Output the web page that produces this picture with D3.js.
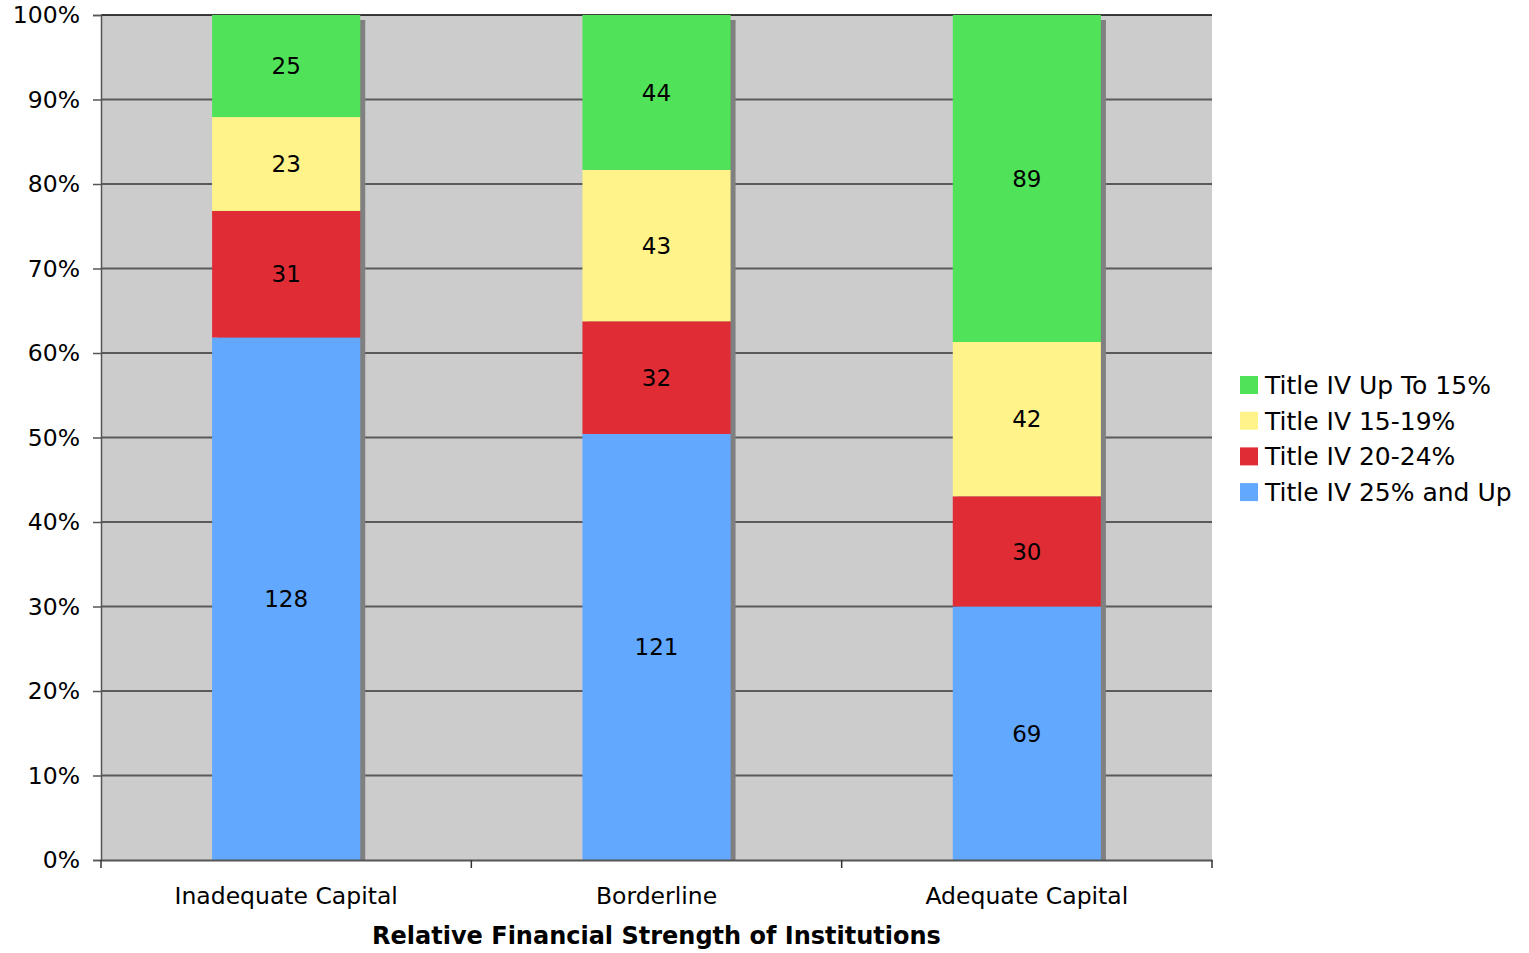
<!DOCTYPE html>
<html>
<head>
<meta charset="utf-8">
<script src="https://cdn.jsdelivr.net/npm/d3@7"></script>
<style>
  html, body { margin: 0; padding: 0; background: #fff; }
  svg { display: block; font-family: "DejaVu Sans", Verdana, sans-serif; }
</style>
</head>
<body>
<svg id="chart" width="1529" height="953"></svg>
<script>
// Institution groups and counts per Title IV band (bottom to top)
const categories = ["Inadequate Capital", "Borderline", "Adequate Capital"];
const seriesNames = ["Title IV 25% and Up", "Title IV 20-24%", "Title IV 15-19%", "Title IV Up To 15%"];
const up25 = [128, 121, 69];
const from20to24 = [31, 32, 30];
const from15to19 = [23, 43, 42];
const upTo15 = [25, 44, 89];
const seriesColors = ["#62a8ff", "#e02d35", "#fff38a", "#50e35a"];
const yTicks = [0, 0.1, 0.2, 0.3, 0.4, 0.5, 0.6, 0.7, 0.8, 0.9, 1.0];
const xTitle = "Relative Financial Strength of Institutions";

const seriesValues = [up25, from20to24, from15to19, upTo15];
const FONT = "DejaVu Sans, Verdana, sans-serif";

const svg = d3.select("#chart");
const plot = { left: 101, right: 1212, top: 15, bottom: 860 };

const x = d3.scaleBand().domain(categories).range([plot.left, plot.right]).paddingInner(0.6).paddingOuter(0.3);
const xBand = d3.scaleBand().domain(categories).range([plot.left, plot.right]);
const y = d3.scaleLinear().domain([0, 1]).range([plot.bottom, plot.top]);

// Build normalized stacks
const rows = categories.map((c, i) => {
  const r = { cat: c };
  seriesNames.forEach((s, j) => r[s] = seriesValues[j][i]);
  return r;
});
const stack = d3.stack().keys(seriesNames).offset(d3.stackOffsetExpand);
const layers = stack(rows);

// Plot background
svg.append("rect")
  .attr("x", plot.left).attr("y", plot.top)
  .attr("width", plot.right - plot.left).attr("height", plot.bottom - plot.top)
  .attr("fill", "#cccccc");

// Horizontal gridlines
svg.append("g").selectAll("line").data(yTicks.filter(t => t > 0)).join("line")
  .attr("x1", plot.left).attr("x2", plot.right)
  .attr("y1", d => y(d)).attr("y2", d => y(d))
  .attr("stroke", d => d === 1 ? "#000" : "#5a5a5a")
  .attr("stroke-width", d => d === 1 ? 1.5 : 2);

// Bar shadows
svg.append("defs").append("clipPath").attr("id", "plotClip")
  .append("rect").attr("x", plot.left).attr("y", plot.top)
  .attr("width", plot.right - plot.left).attr("height", plot.bottom - plot.top);
svg.append("g").attr("clip-path", "url(#plotClip)")
  .selectAll("rect").data(categories).join("rect")
  .attr("x", d => x(d) + 5).attr("y", y(1) + 5)
  .attr("width", x.bandwidth()).attr("height", y(0) - y(1))
  .attr("fill", "#808080");

// Stacked bars
const gLayers = svg.append("g").selectAll("g").data(layers).join("g")
  .attr("fill", (d, i) => seriesColors[i]);
gLayers.selectAll("rect").data(d => d).join("rect")
  .attr("x", d => x(d.data.cat))
  .attr("y", d => y(d[1]))
  .attr("width", x.bandwidth())
  .attr("height", d => y(d[0]) - y(d[1]));

// Value labels
const labels = svg.append("g").attr("font-size", 23).attr("fill", "#000").attr("text-anchor", "middle");
layers.forEach((layer, j) => {
  layer.forEach((d, i) => {
    labels.append("text")
      .attr("x", x(d.data.cat) + x.bandwidth() / 2)
      .attr("y", (y(d[0]) + y(d[1])) / 2)
      .attr("dy", "0.36em")
      .text(seriesValues[j][i]);
  });
});

// Y axis
const yAxis = svg.append("g").attr("transform", `translate(${plot.left},0)`)
  .call(d3.axisLeft(y).tickValues(yTicks).tickFormat(d3.format(".0%")).tickSize(8).tickPadding(13));
yAxis.select(".domain").attr("stroke", "#555").attr("stroke-width", 1.5);
yAxis.selectAll(".tick line").attr("stroke", "#555").attr("stroke-width", 1.5);
yAxis.selectAll(".tick text").attr("font-size", 23.5).attr("font-family", FONT).attr("fill", "#000");

// X axis
const xAxis = svg.append("g").attr("transform", `translate(0,${plot.bottom})`)
  .call(d3.axisBottom(xBand).tickSize(0).tickPadding(27));
xAxis.select(".domain").attr("stroke", "#555").attr("stroke-width", 2);
xAxis.selectAll(".tick text").attr("font-size", 23.5).attr("font-family", FONT).attr("fill", "#000");
// Category separators
const seps = [plot.left, ...categories.slice(1).map(c => xBand(c)), plot.right];
svg.append("g").selectAll("line").data(seps).join("line")
  .attr("x1", d => d).attr("x2", d => d)
  .attr("y1", plot.bottom).attr("y2", plot.bottom + 8)
  .attr("stroke", "#333").attr("stroke-width", 1.5);

// X axis title
svg.append("text")
  .attr("x", (plot.left + plot.right) / 2)
  .attr("y", 944)
  .attr("text-anchor", "middle")
  .attr("font-size", 24).attr("font-weight", "bold")
  .text(xTitle);

// Legend (top series first)
const legendItems = seriesNames.map((s, i) => ({ name: s, color: seriesColors[i] })).reverse();
const legend = svg.append("g").attr("transform", "translate(1240,376)");
const li = legend.selectAll("g").data(legendItems).join("g")
  .attr("transform", (d, i) => `translate(0,${i * 35.7})`);
li.append("rect").attr("width", 18).attr("height", 18).attr("fill", d => d.color);
li.append("text").attr("x", 25).attr("y", 9).attr("dy", "0.36em")
  .attr("font-size", 25).text(d => d.name);
</script>
</body>
</html>
